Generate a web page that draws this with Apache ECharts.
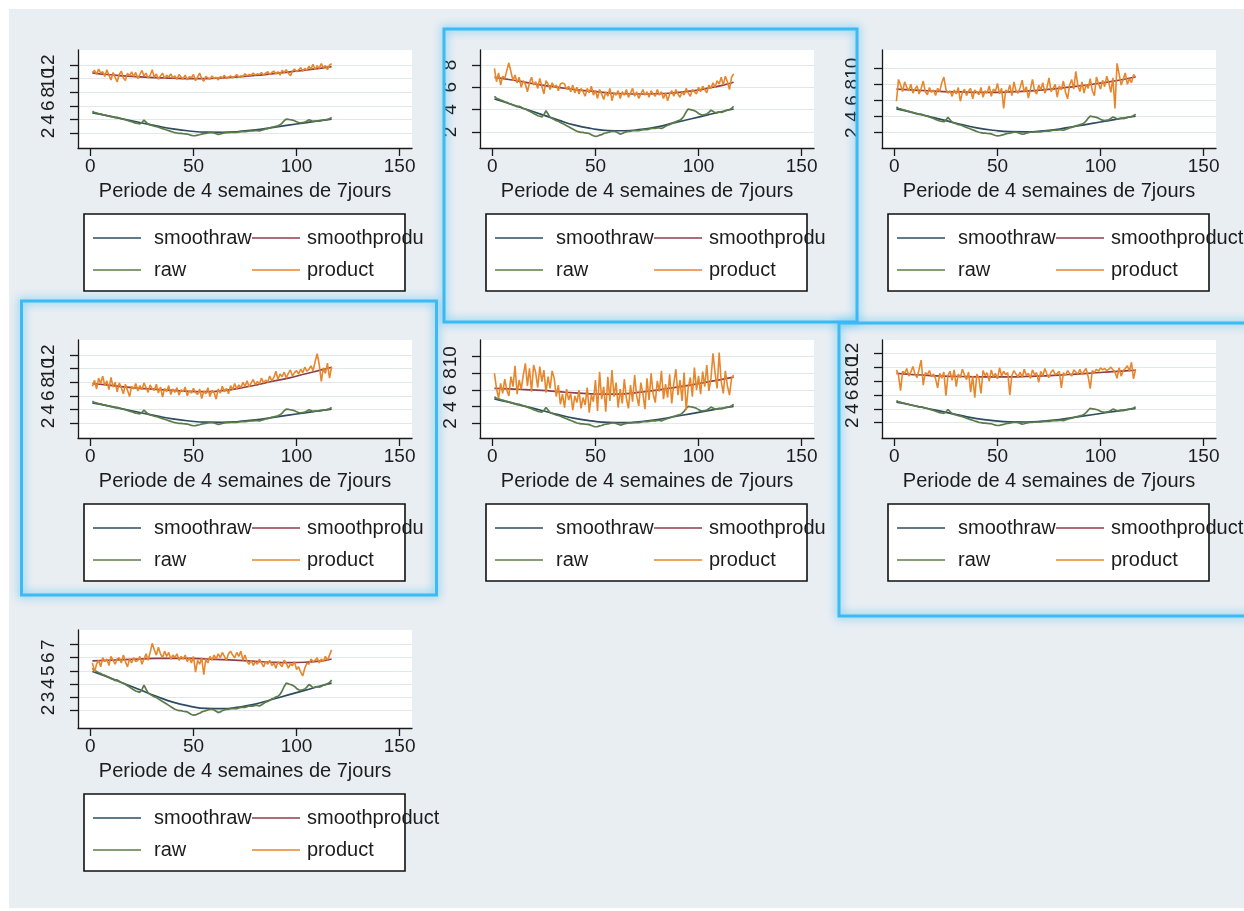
<!DOCTYPE html>
<html>
<head>
<meta charset="utf-8">
<script src="https://cdn.jsdelivr.net/npm/echarts@6/dist/echarts.min.js"></script>
<style>
  html, body { margin: 0; padding: 0; background: #ffffff; }
  #frame { position: absolute; left: 9px; top: 9px; width: 1235px; height: 899px; background: #e9eef2; }
  #chart { position: absolute; left: 0; top: 0; width: 1244px; height: 911px; }
</style>
</head>
<body>
<div id="frame"></div>
<div id="chart"></div>
<script>
// Periods (4-week blocks of 7-day weeks)
const periods = Array.from({ length: 117 }, (_, i) => i + 1);
// Knots of the smoothed curves
const smoothX = [1, 8, 16, 24, 32, 40, 48, 56, 64, 72, 80, 88, 96, 104, 112, 117];

const xTicks = [0, 50, 100, 150];
const xTitle = 'Periode de 4 semaines de 7jours';
const legendLabels = ['smoothraw', 'smoothproduct', 'raw', 'product'];

// Raw series (shared by every panel)
const raw = [
  5.2, 5.0, 4.95, 4.85, 4.8, 4.7, 4.65, 4.55, 4.5, 4.4, 4.35, 4.25, 4.3, 4.2, 4.1, 4.05, 3.95, 3.85, 3.75, 3.65,
  3.55, 3.45, 3.4, 3.35, 3.55, 3.9, 3.6, 3.3, 3.2, 3.1, 3.0, 2.95, 2.85, 2.75, 2.65, 2.55, 2.45, 2.35, 2.25, 2.15,
  2.05, 2.0, 1.95, 1.95, 1.9, 1.88, 1.85, 1.75, 1.65, 1.6, 1.62, 1.7, 1.75, 1.85, 1.9, 1.95, 2.0, 2.05, 2.05, 2.0,
  1.9, 1.8, 1.85, 1.95, 2.0, 2.05, 2.05, 2.1, 2.1, 2.1, 2.1, 2.15, 2.2, 2.2, 2.2, 2.25, 2.3, 2.3, 2.3, 2.35,
  2.35, 2.3, 2.4, 2.5, 2.6, 2.65, 2.75, 2.85, 2.9, 3.0, 3.05, 3.2, 3.45, 3.8, 4.05, 4.0, 3.95, 3.9, 3.8, 3.65,
  3.55, 3.5, 3.55, 3.6, 3.75, 3.95, 3.85, 3.7, 3.75, 3.8, 3.75, 3.8, 3.9, 3.95, 4.0, 4.1, 4.3
];
const smoothRaw = [4.95, 4.55, 4.05, 3.55, 3.05, 2.6, 2.3, 2.12, 2.1, 2.22, 2.45, 2.8, 3.15, 3.5, 3.85, 4.05];

// Product series, one per panel
const product1 = [
  10.9, 11.2, 10.6, 11.4, 10.8, 11.0, 10.3, 11.3, 10.5, 9.8, 10.9, 10.2, 9.5, 10.6, 11.1, 10.1, 9.7, 10.8, 10.4, 11.0,
  10.3, 10.9, 10.0, 10.6, 11.2, 10.4, 10.8, 10.1, 10.5, 11.3, 10.2, 10.7, 9.9, 10.4, 10.8, 10.0, 10.5, 10.2, 10.7, 10.1,
  10.4, 9.9, 10.6, 10.2, 10.0, 10.5, 9.8, 10.3, 10.1, 10.6, 9.7, 10.2, 10.8, 10.0, 9.6, 10.3, 10.1, 9.9, 10.4, 10.0,
  10.2, 9.8, 10.3, 10.1, 10.5, 10.0, 10.2, 10.4, 10.1, 10.3, 10.6, 10.2, 10.4, 10.3, 10.7, 10.4, 10.6, 10.5, 10.8, 10.5,
  10.7, 10.6, 10.9, 10.5, 10.8, 11.0, 10.6, 10.9, 11.1, 10.7, 11.0, 10.5, 11.2, 10.9, 11.3, 10.8, 10.4, 11.1, 11.4, 11.0,
  11.3, 11.6, 11.1, 11.5, 11.2, 11.8, 11.4, 12.1, 11.3, 11.9, 11.5, 12.2, 11.6, 11.9, 11.3, 12.0, 12.2
];
const smoothProduct1 = [10.85, 10.6, 10.4, 10.25, 10.15, 10.05, 10.0, 10.0, 10.1, 10.25, 10.45, 10.7, 10.95, 11.25, 11.55, 11.75];

const product2 = [
  7.7, 6.5, 7.3, 6.2, 7.0, 6.8, 7.5, 8.2, 7.4, 6.6, 7.1, 6.4, 6.9, 6.0, 6.6, 6.3, 5.6, 6.4, 6.9, 6.2,
  6.5, 5.9, 6.8, 6.1, 5.4, 6.6, 6.3, 5.8, 6.4, 6.0, 6.2, 5.7, 6.3, 6.4, 6.3, 5.8, 6.1, 5.6, 6.2, 5.5,
  6.0, 5.4, 5.9, 5.6, 5.2, 5.9, 5.5, 6.1, 5.3, 5.7, 5.0, 5.8, 5.4, 4.9, 5.6, 5.2, 5.9, 4.8, 5.5, 5.3,
  5.7, 5.0, 5.6, 5.3, 5.8, 5.1, 5.5, 5.9, 5.2, 5.6, 5.0, 5.4, 5.8, 5.3, 5.6, 5.1, 5.7, 5.4, 5.2, 5.8,
  5.3, 5.6, 5.0, 5.5, 4.8, 5.4, 5.7, 5.2, 5.8, 5.4, 5.1, 5.6, 5.3, 5.9, 5.5, 5.2, 5.8, 5.6, 5.4, 6.0,
  5.6, 6.1, 5.8, 5.5, 6.2, 5.9, 6.4, 6.0, 6.6, 6.3, 6.9, 6.2, 7.0, 6.5, 5.8, 6.9, 7.2
];
const smoothProduct2 = [6.9, 6.7, 6.45, 6.2, 6.0, 5.8, 5.65, 5.5, 5.42, 5.4, 5.42, 5.5, 5.65, 5.9, 6.2, 6.45];

const product3 = [
  5.9, 8.6, 7.9, 7.1, 8.3, 7.6, 7.2, 8.0, 6.9, 7.4, 7.8, 6.8, 7.5, 8.4, 7.1, 6.7, 7.6, 7.0, 7.3, 6.6,
  7.5, 7.1, 8.2, 8.9, 7.4, 6.9, 7.2, 6.5, 7.3, 6.8, 7.6, 5.9, 7.0, 7.4, 6.6, 7.2, 7.5, 6.2, 7.3, 7.0,
  6.7, 7.6, 6.4, 7.2, 6.9, 7.8, 6.5, 7.4, 7.1, 8.1, 6.8, 7.5, 5.0, 7.3, 7.0, 7.9, 6.6, 8.3, 7.2, 6.9,
  7.6, 8.5, 7.0, 7.7, 6.3, 7.4, 8.6, 7.2, 6.8, 7.9, 7.3, 8.2, 6.9, 7.6, 8.8, 7.1, 7.5, 8.0, 6.4, 7.8,
  7.3, 8.4, 7.0, 6.2, 7.9, 8.6, 7.4, 9.6, 7.8, 7.1, 8.3, 6.9, 8.0, 7.5, 8.7, 7.2, 6.6, 8.9, 8.1, 7.4,
  8.5, 7.7, 9.0, 8.2, 7.0, 8.8, 5.0, 10.6, 9.3, 7.9, 8.6, 9.4, 8.0, 8.7, 8.2, 9.2, 8.9
];
const smoothProduct3 = [7.4, 7.3, 7.2, 7.1, 7.05, 7.0, 7.0, 7.05, 7.15, 7.3, 7.5, 7.75, 8.0, 8.3, 8.65, 8.9];

const product4 = [
  7.4, 8.3, 7.0, 8.6, 7.8, 8.9, 7.5, 8.2, 6.9, 8.7, 7.3, 8.0, 6.6, 7.9, 7.2, 6.3, 7.7, 6.8, 5.9, 7.4,
  7.0, 7.8, 6.7, 7.5, 6.9, 7.9, 7.2, 6.5, 7.6, 7.0, 6.8, 7.7, 6.4, 7.3, 5.8, 7.1, 6.6, 7.5, 6.2, 7.0,
  6.5, 7.2, 6.1, 6.9, 6.6, 7.3, 6.0, 6.8, 6.4, 7.1, 6.5, 6.2, 7.0, 5.6, 6.7, 6.3, 7.2, 5.9, 6.8, 6.5,
  5.5, 7.0, 6.4, 7.4, 6.6, 7.1, 6.3, 7.5, 6.9, 7.8, 7.0, 7.6, 7.2, 8.0, 7.4, 8.2, 7.3, 7.9, 8.4, 7.6,
  8.1, 7.7, 8.6, 7.9, 8.3, 8.0, 8.9, 8.2, 8.7, 9.6, 8.4, 9.2, 8.8, 9.5, 8.6, 9.3, 9.8, 8.9, 9.4, 9.7,
  9.2, 9.9, 9.4, 10.2, 9.6, 9.9, 10.4, 9.7, 11.0, 12.2, 10.6, 8.1, 10.1, 9.3, 10.8, 8.6, 10.3
];
const smoothProduct4 = [7.8, 7.6, 7.3, 7.1, 6.95, 6.8, 6.65, 6.6, 6.75, 7.1, 7.55, 8.1, 8.6, 9.2, 9.8, 10.2];

const product5 = [
  8.0, 6.2, 5.0, 6.8, 5.6, 7.3, 6.0, 5.3, 7.6, 6.4, 8.9, 5.5, 7.2, 6.1, 7.8, 9.2, 6.5, 8.6, 5.8, 9.0,
  8.1, 6.3, 8.8, 7.0, 8.4, 5.7, 7.6, 6.2, 8.3, 7.4, 5.2, 6.6, 4.3, 5.5, 3.9, 6.1, 4.8, 5.6, 3.6, 5.3,
  4.5, 6.0, 3.8, 5.1, 4.2, 6.3, 3.3, 5.4, 4.6, 7.2, 3.5, 8.2, 4.9, 6.4, 3.4, 7.6, 4.7, 8.4, 5.2, 6.9,
  3.9, 6.1, 4.4, 7.3, 5.0, 3.8, 6.6, 4.6, 7.8, 5.3, 4.1, 6.9, 5.6, 3.7, 7.4, 4.8, 8.0, 5.5, 4.5, 7.1,
  5.8, 8.3, 4.9, 6.7, 5.1, 7.9, 4.4, 6.8, 8.5, 5.4, 7.2, 4.7, 8.1, 3.6, 6.3, 7.5, 5.2, 8.7, 6.0, 7.7,
  5.5, 8.2, 6.4, 9.0, 5.9, 7.3, 10.4, 8.1, 6.2, 10.5, 7.0, 5.6, 8.3, 6.5, 5.4, 7.4, 7.8
];
const smoothProduct5 = [6.2, 6.15, 6.05, 5.95, 5.8, 5.65, 5.55, 5.5, 5.55, 5.75, 6.0, 6.3, 6.6, 6.95, 7.3, 7.55];

const product6 = [
  9.6, 8.8, 6.6, 9.4, 9.1, 9.8, 8.7, 9.3, 10.1, 9.0, 8.5, 9.7, 11.0, 7.4, 9.2, 8.9, 9.5, 8.6, 9.0, 8.3,
  7.0, 9.1, 8.4, 9.3, 5.9, 8.8, 9.4, 8.1, 9.6, 7.2, 9.0, 8.5, 9.7, 8.9, 8.2, 9.3, 6.4, 8.7, 5.6, 9.0,
  8.4, 6.2, 9.5, 8.8, 9.2, 8.0, 9.6, 8.6, 9.1, 8.3, 9.9, 8.7, 9.4, 8.9, 9.2, 6.0, 8.8, 9.5, 9.0, 8.6,
  9.3, 8.5, 9.7, 8.8, 9.1, 8.4, 9.6, 8.9, 9.2, 7.8, 9.4, 8.7, 9.8, 9.0, 8.5, 9.3, 9.6, 8.9, 9.1, 9.4,
  7.0, 9.2, 8.8, 9.5, 9.1, 8.7, 9.6, 9.3, 9.0, 9.7, 8.9, 9.4, 9.8, 8.6, 6.9, 9.5, 9.2, 9.7, 9.4, 9.9,
  9.6, 9.8, 9.5, 9.7, 10.0, 9.6, 9.3, 8.4, 9.9, 8.7, 9.5, 9.8, 10.2, 9.4, 10.7, 8.3, 9.7
];
const smoothProduct6 = [9.1, 8.95, 8.8, 8.7, 8.65, 8.6, 8.6, 8.6, 8.65, 8.75, 8.85, 9.0, 9.15, 9.3, 9.45, 9.55];

const product7 = [
  5.6, 4.9, 5.5, 5.8, 5.3, 6.0, 5.7, 5.9, 5.4, 6.1, 5.8, 5.5, 5.9, 6.0, 5.6, 6.2, 5.7, 5.3, 5.9, 5.6,
  6.0, 5.7, 5.8, 6.1, 5.5, 5.9, 6.3, 5.8, 6.4, 7.1, 6.6, 6.2, 6.8, 6.3, 6.0, 6.5, 6.1, 6.4, 5.9, 6.2,
  6.0, 6.3, 5.8, 6.1, 5.9, 6.2, 5.7, 6.0, 5.6, 6.1, 4.9, 5.8, 5.5, 6.0, 4.7, 5.9, 5.6, 6.1, 5.8, 6.2,
  5.9, 6.3, 6.0, 6.4, 6.1, 5.8, 6.3, 6.5, 6.2, 6.0, 6.4, 6.1, 6.5, 5.8, 6.2, 5.7, 5.5, 5.8, 5.4, 5.7,
  5.5, 5.9, 5.6, 5.3, 5.7, 5.5, 5.8, 5.4, 5.6, 5.2, 5.7, 5.5, 5.3, 5.8, 5.6, 5.2, 5.5, 5.4, 5.7, 5.1,
  5.3, 4.9, 4.6, 5.2, 5.6, 5.5, 5.9, 5.7, 5.8, 6.0, 5.6, 5.9, 5.7, 6.1, 5.8, 6.2, 6.6
];
const smoothProduct7 = [5.75, 5.8, 5.85, 5.9, 5.95, 5.95, 5.95, 5.9, 5.85, 5.8, 5.72, 5.65, 5.62, 5.65, 5.75, 5.9];

// Y tick labels per panel
const yTicks1 = [2, 4, 6, 8, 10, 12];
const yTicks2 = [2, 4, 6, 8];
const yTicks3 = [2, 4, 6, 8, 10];
const yTicks4 = [2, 4, 6, 8, 10, 12];
const yTicks5 = [2, 4, 6, 8, 10];
const yTicks6 = [2, 4, 6, 8, 10, 12];
const yTicks7 = [2, 3, 4, 5, 6, 7];

// Layout of the 3 x 3 grid of small multiples
const COL_LEFT = [78, 480, 882];
const ROW_TOP = [50, 340, 630];
const PW = 334, PH = 98;
const FONT = '"Liberation Sans", Arial, Helvetica, sans-serif';
const TEXT = '#1c1c1c';
const AXIS = '#1a1a1a';
const COLORS = ['#2d4c60', '#8f3e4b', '#5c7b4a', '#e8862b'];

const panels = [
  { col: 0, row: 0, product: product1, smooth: smoothProduct1, yTicks: yTicks1, yMin: -0.2, yMax: 14.2, cut: true },
  { col: 1, row: 0, product: product2, smooth: smoothProduct2, yTicks: yTicks2, yMin: 0.55, yMax: 9.35, cut: true },
  { col: 2, row: 0, product: product3, smooth: smoothProduct3, yTicks: yTicks3, yMin: 0.1, yMax: 12.25, cut: false },
  { col: 0, row: 1, product: product4, smooth: smoothProduct4, yTicks: yTicks4, yMin: -0.2, yMax: 14.2, cut: true },
  { col: 1, row: 1, product: product5, smooth: smoothProduct5, yTicks: yTicks5, yMin: 0.25, yMax: 12.0, cut: true },
  { col: 2, row: 1, product: product6, smooth: smoothProduct6, yTicks: yTicks6, yMin: -0.2, yMax: 13.9, cut: false },
  { col: 0, row: 2, product: product7, smooth: smoothProduct7, yTicks: yTicks7, yMin: 0.62, yMax: 8.12, cut: false }
];

function pairs(xs, ys) { return xs.map((x, i) => [x, ys[i]]); }

const grid = [], xAxis = [], yAxis = [], series = [], graphic = [];

const yLabelStyle = { rotate: 90, margin: 20, fontFamily: FONT, fontSize: 19, color: TEXT, hideOverlap: false };

panels.forEach((p, i) => {
  const left = COL_LEFT[p.col], top = ROW_TOP[p.row];
  grid.push({ left: left, top: top, width: PW, height: PH, show: true, backgroundColor: '#ffffff', borderWidth: 0 });
  xAxis.push({
    gridIndex: i, type: 'value', min: -6, max: 156,
    name: xTitle, nameLocation: 'middle', nameGap: 33,
    nameTextStyle: { fontFamily: FONT, fontSize: 20, color: TEXT },
    axisLine: { show: true, onZero: false, lineStyle: { color: AXIS, width: 1.3 } },
    axisTick: { show: true, customValues: xTicks, length: 8, lineStyle: { color: AXIS, width: 1.3 } },
    axisLabel: { customValues: xTicks, margin: 9, fontFamily: FONT, fontSize: 19, color: TEXT, showMinLabel: true, showMaxLabel: true },
    splitLine: { show: false }
  });
  // Tick labels are split over two stacked axes so that crowded labels all stay visible
  const evenTicks = p.yTicks.filter((_, k) => k % 2 === 0);
  const oddTicks = p.yTicks.filter((_, k) => k % 2 === 1);
  const yMain = yAxis.length;
  yAxis.push({
    gridIndex: i, type: 'value', position: 'left', min: p.yMin, max: p.yMax,
    axisLine: { show: true, onZero: false, lineStyle: { color: AXIS, width: 1.3 } },
    axisTick: { show: true, customValues: p.yTicks, length: 8, lineStyle: { color: AXIS, width: 1.3 } },
    axisLabel: Object.assign({ customValues: evenTicks }, yLabelStyle),
    splitLine: { show: true, lineStyle: { color: '#e2e7ea', width: 1 } }
  });
  yAxis.push({
    gridIndex: i, type: 'value', position: 'left', offset: 0, min: p.yMin, max: p.yMax,
    axisLine: { show: false, onZero: false },
    axisTick: { show: false },
    axisLabel: Object.assign({ customValues: oddTicks }, yLabelStyle),
    splitLine: { show: false }
  });
  const common = { type: 'line', xAxisIndex: i, yAxisIndex: yMain, showSymbol: false, symbol: 'none', silent: true, animation: false };
  series.push(Object.assign({}, common, { name: 'smoothraw', data: pairs(smoothX, smoothRaw), smooth: 0.5, lineStyle: { color: COLORS[0], width: 1.7 } }));
  series.push(Object.assign({}, common, { name: 'smoothproduct', data: pairs(smoothX, p.smooth), smooth: 0.5, lineStyle: { color: COLORS[1], width: 1.7 } }));
  series.push(Object.assign({}, common, { name: 'raw', data: pairs(periods, raw), lineStyle: { color: COLORS[2], width: 1.7 } }));
  series.push(Object.assign({}, common, { name: 'product', data: pairs(periods, p.product), lineStyle: { color: COLORS[3], width: 1.6 } }));

  // Legend box below each panel: two columns, two rows
  const bx = left + 6, by = top + 164;
  graphic.push({ type: 'rect', shape: { x: bx, y: by, width: 321, height: 77 }, style: { fill: '#ffffff', stroke: '#111111', lineWidth: 1.6 } });
  const rowsY = [top + 188, top + 220];
  const sampleX = [[left + 15, left + 63], [left + 174, left + 222]];
  const textX = [left + 76, left + 229];
  legendLabels.forEach((lab, k) => {
    const c = k % 2, r = Math.floor(k / 2);
    const textStyle = { text: lab, x: textX[c], y: rowsY[r], fill: TEXT, font: '20px ' + FONT, verticalAlign: 'middle', align: 'left' };
    if (c === 1 && p.cut) { textStyle.width = 119; textStyle.overflow = 'truncate'; textStyle.ellipsis = ''; }
    graphic.push({ type: 'text', style: textStyle });
    graphic.push({ type: 'line', shape: { x1: sampleX[c][0], y1: rowsY[r], x2: sampleX[c][1], y2: rowsY[r] }, style: { stroke: COLORS[k], lineWidth: 1.7 } });
  });
});

// Highlight frames around three of the panels
[
  { x: 444, y: 29, width: 413, height: 293 },
  { x: 21.5, y: 301, width: 415, height: 294 },
  { x: 839, y: 323, width: 420, height: 293 }
].forEach(b => {
  graphic.push({ type: 'rect', z: 100, shape: b, style: { fill: 'none', stroke: '#3bbaf3', lineWidth: 3, shadowBlur: 10, shadowColor: 'rgba(40,180,245,0.9)' } });
});

const chart = echarts.init(document.getElementById('chart'), null, { renderer: 'canvas' });
chart.setOption({
  animation: false,
  backgroundColor: 'transparent',
  grid: grid,
  xAxis: xAxis,
  yAxis: yAxis,
  series: series,
  graphic: graphic
});
</script>
</body>
</html>
